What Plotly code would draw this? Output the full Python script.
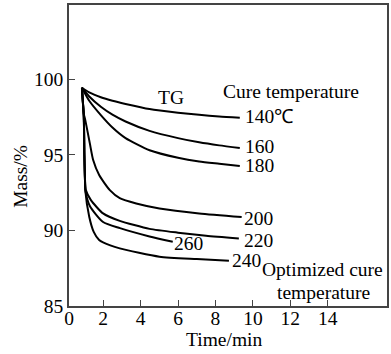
import plotly.graph_objects as go

# ---- data ----
t_tg  = [0.87, 1.26, 1.88, 2.5, 3.2, 4.48, 6.0, 7.13, 8.2, 9.3]
m_tg  = [99.43, 99.12, 98.8, 98.57, 98.36, 98.02, 97.78, 97.64, 97.53, 97.45]

t_160 = [0.87, 1.26, 1.88, 2.5, 3.2, 4.48, 6.0, 7.13, 8.2, 9.3]
m_160 = [99.43, 98.85, 98.17, 97.65, 97.2, 96.58, 96.1, 95.82, 95.62, 95.45]

t_180 = [0.87, 1.26, 1.88, 2.5, 3.2, 4.48, 6.0, 7.13, 8.2, 9.3]
m_180 = [99.43, 98.57, 97.62, 96.8, 96.1, 95.3, 94.8, 94.55, 94.4, 94.25]

t_200 = [0.87, 0.97, 1.05, 1.29, 1.47, 1.79, 2.36, 2.89, 3.77, 5.01, 7.13, 9.4]
m_200 = [99.43, 97.7, 97.29, 95.77, 94.65, 93.66, 92.66, 92.13, 91.78, 91.45, 91.12, 90.88]

t_220 = [0.87, 0.97, 1.0, 1.03, 1.08, 1.35, 2.0, 2.89, 4.48, 6.0, 7.5, 9.25]
m_220 = [99.43, 97.5, 95.0, 93.5, 92.66, 92.0, 91.12, 90.63, 90.1, 89.85, 89.65, 89.47]

t_260 = [0.87, 0.97, 1.0, 1.03, 1.06, 1.3, 2.0, 2.9, 4.48, 5.72]
m_260 = [99.43, 97.5, 95.0, 93.5, 92.6, 91.6, 90.55, 90.15, 89.6, 89.25]

t_240 = [0.87, 0.97, 1.0, 1.03, 1.05, 1.26, 1.5, 1.79, 2.0, 2.89, 5.01, 7.0, 8.72]
m_240 = [99.43, 97.5, 95.0, 93.5, 92.66, 90.9, 89.9, 89.36, 89.2, 88.81, 88.26, 88.1, 87.99]

x_tickvals = [0.18, 2, 4, 6, 8, 10, 12, 14]
x_ticktext = ["0", "2", "4", "6", "8", "10", "12", "14"]
y_tickvals = [85, 90, 95, 100]

series = [(t_tg, m_tg), (t_160, m_160), (t_180, m_180), (t_200, m_200),
          (t_220, m_220), (t_260, m_260), (t_240, m_240)]

FONT = "Liberation Serif, Times New Roman, serif"
FS = 19.5

fig = go.Figure()
for t, m in series:
    fig.add_trace(go.Scatter(x=t, y=m, mode="lines",
                             line=dict(color="black", width=2, shape="spline", smoothing=0.6),
                             showlegend=False, hoverinfo="skip"))

labels = [
    ("TG", 5.63, 98.76, "center"),
    ("Cure temperature", 12.06, 99.16, "center"),
    ("140℃", 9.45, 97.55, "left"),
    ("160", 9.45, 95.54, "left"),
    ("180", 9.45, 94.32, "left"),
    ("200", 9.4, 90.79, "left"),
    ("220", 9.4, 89.36, "left"),
    ("260", 6.56, 89.14, "center"),
    ("240", 8.78, 87.99, "left"),
    ("Optimized cure", 13.74, 87.42, "center"),
    ("temperature", 13.79, 85.88, "center"),
]
for txt, x, y, anc in labels:
    fig.add_annotation(x=x, y=y, text=txt, showarrow=False, xanchor=anc, yanchor="middle",
                       font=dict(family=FONT, size=FS, color="black"))

# axis titles as annotations
fig.add_annotation(xref="paper", yref="paper", x=(20 - 69) / 320, y=(306 - 176.5) / 301,
                   xanchor="center", yanchor="middle", text="Mass/%", showarrow=False,
                   textangle=-90, font=dict(family=FONT, size=FS, color="black"))
fig.add_annotation(xref="paper", yref="paper", x=(225 - 69) / 320, y=(306 - 339) / 301,
                   xanchor="center", yanchor="middle", text="Time/min",
                   showarrow=False, font=dict(family=FONT, size=FS, color="black"))

axis_common = dict(showgrid=False, zeroline=False, showline=True, linecolor="#444", linewidth=1.5,
                   mirror=True, ticks="inside", ticklen=6, tickwidth=1.3, tickcolor="#444",
                   tickfont=dict(family=FONT, size=FS, color="black"))
fig.update_xaxes(range=[0.18, 17.16], tickvals=x_tickvals, ticktext=x_ticktext,
                 ticklabelstandoff=-6, **axis_common)
fig.update_yaxes(range=[85, 104.9], tickvals=y_tickvals, **axis_common)

fig.update_layout(width=391, height=354, margin=dict(l=69, r=2, t=5, b=48),
                  plot_bgcolor="white", paper_bgcolor="white")
fig.write_html("out.html")
